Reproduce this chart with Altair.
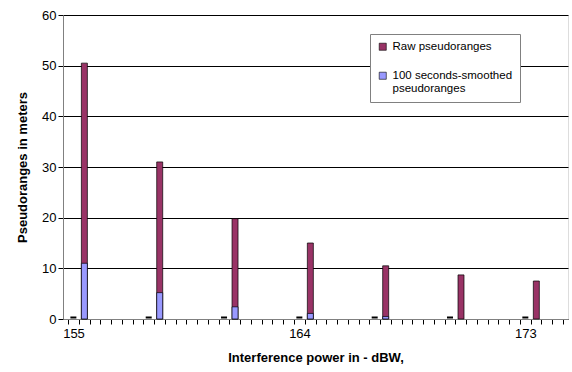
import altair as alt
import pandas as pd

power = [155, 158, 161, 164, 167, 170, 173]
raw = [50.5, 31.0, 19.8, 15.0, 10.5, 8.7, 7.5]
smoothed = [11.0, 5.2, 2.4, 1.1, 0.5, 0.0, 0.0]
baseline = [0, 0, 0, 0, 0, 0, 0]

RAW = "Raw pseudoranges"
SMO = "100 seconds-smoothed pseudoranges"

rows = []
for p, r in zip(power, raw):
    rows.append({"power": p, "value": r, "series": RAW, "ord": 0})
for p, s in zip(power, smoothed):
    rows.append({"power": p, "value": s, "series": SMO, "ord": 1})
long = pd.DataFrame(rows)
base_df = pd.DataFrame({"power": power, "zero": baseline})

x_lo = 155 - 3 / 14
x_hi = x_lo + 46 * 3 / 7
tick_vals = [round(x_lo + k * 3 / 7, 4) for k in range(47)]

FONT = "Liberation Sans"

x_scale = alt.Scale(domain=[x_lo, x_hi], nice=False, zero=False)
y_scale = alt.Scale(domain=[0, 60], nice=False)

label_expr = (
    "abs(datum.value - 154.7857) < 0.05 ? '155' : "
    "abs(datum.value - 163.7857) < 0.05 ? '164' : "
    "abs(datum.value - 172.7857) < 0.05 ? '173' : ''"
)

x_axis = alt.Axis(
    values=tick_vals, labelExpr=label_expr, labelOffset=5.5, labelOverlap=False,
    labelFlush=False, labelFontSize=13, labelColor="black", labelPadding=3,
    tickSize=5, tickColor="black", tickWidth=1, domainColor="#808080", grid=False,
    title="Interference power in - dBW,", titleFontSize=13, titleFontWeight="bold",
    titleColor="black", titlePadding=11,
)

y_axis = alt.Axis(
    values=[0, 10, 20, 30, 40, 50, 60], labelFontSize=13, labelColor="black",
    tickSize=5, tickColor="black", domainColor="#808080", gridColor="black",
    gridOpacity=1, gridWidth=1, labelPadding=2,
    title="Pseudoranges in meters", titleFontSize=13, titleFontWeight="bold",
    titleColor="black", titlePadding=12,
)

legend = alt.Legend(
    orient="none", legendX=307, legendY=19, title=None,
    fillColor="white", strokeColor="#808080", padding=7,
    symbolType="square", symbolSize=50, symbolStrokeColor="black",
    symbolStrokeWidth=0.6, labelFontSize=11.5, labelColor="black", labelLimit=300,
    rowPadding=16, labelFont=FONT,
    labelExpr="datum.label == '" + SMO + "' ? ['100 seconds-smoothed', 'pseudoranges'] : datum.label",
)

bars = alt.Chart(long).transform_filter("datum.value > 0").mark_bar(
    size=6, stroke="black", strokeWidth=0.7, xOffset=11
).encode(
    x=alt.X("power:Q", scale=x_scale, axis=x_axis),
    y=alt.Y("value:Q", stack=None, scale=y_scale, axis=y_axis),
    color=alt.Color("series:N", scale=alt.Scale(domain=[RAW, SMO], range=["#993366", "#9999FF"]),
                    legend=legend, sort=[RAW, SMO]),
    order=alt.Order("ord:Q"),
)

dashes = alt.Chart(base_df).mark_tick(
    orient="horizontal", size=6, thickness=2, color="black", opacity=1, yOffset=-1.5
).encode(
    x=alt.X("power:Q", scale=x_scale, axis=x_axis),
    y=alt.Y("zero:Q", scale=y_scale, axis=y_axis),
)

chart = alt.layer(bars, dashes).properties(
    width=505, height=304,
    autosize=alt.AutoSizeParams(type="none"),
    padding={"left": 63, "top": 15, "right": 4, "bottom": 53},
    background="white",
).configure_view(
    fill="#C0C0C0", stroke="#808080", strokeWidth=1
).configure(font=FONT)

chart.save("out.html", embed_options={"renderer": "svg", "actions": False})
